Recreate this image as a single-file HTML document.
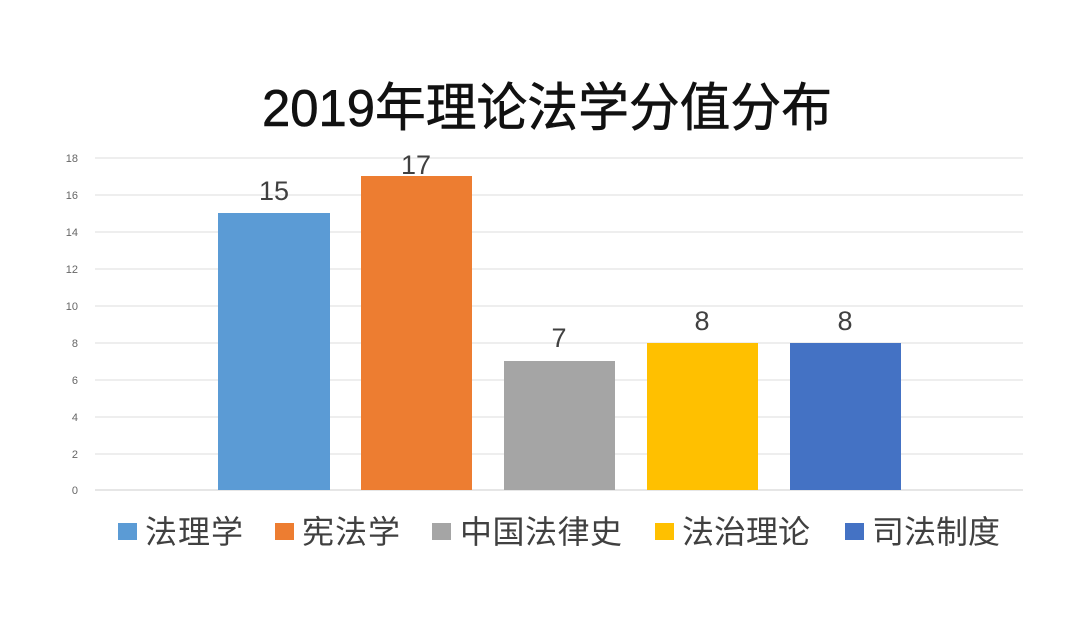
<!DOCTYPE html>
<html><head><meta charset="utf-8"><style>
html,body{margin:0;padding:0;background:#fff;}
svg{display:block}
text{font-family:"Liberation Sans","Noto Sans CJK SC",sans-serif;}
</style></head><body>
<svg width="1080" height="617" viewBox="0 0 1080 617" xmlns="http://www.w3.org/2000/svg">
<rect width="1080" height="617" fill="#fff"/>
<text x="262" y="126" font-size="52" textLength="570" lengthAdjust="spacingAndGlyphs" fill="#111" stroke="#111" stroke-width="0.6" font-family="'Liberation Sans','Noto Sans CJK SC',sans-serif">2019年理论法学分值分布</text>
<g stroke="#e3e3e3" stroke-width="1.2">
<line x1="95" x2="1023" y1="158" y2="158"/>
<line x1="95" x2="1023" y1="195" y2="195"/>
<line x1="95" x2="1023" y1="232" y2="232"/>
<line x1="95" x2="1023" y1="269" y2="269"/>
<line x1="95" x2="1023" y1="306" y2="306"/>
<line x1="95" x2="1023" y1="343" y2="343"/>
<line x1="95" x2="1023" y1="380" y2="380"/>
<line x1="95" x2="1023" y1="417" y2="417"/>
<line x1="95" x2="1023" y1="454" y2="454"/>
<line x1="95" x2="1023" y1="490" y2="490" stroke="#d8d8d8"/>
</g>
<g font-size="11" fill="#666" text-anchor="end">
<text x="78" y="162">18</text><text x="78" y="199">16</text><text x="78" y="236">14</text>
<text x="78" y="273">12</text><text x="78" y="310">10</text><text x="78" y="347">8</text>
<text x="78" y="384">6</text><text x="78" y="421">4</text><text x="78" y="458">2</text>
<text x="78" y="494">0</text>
</g>
<rect x="218" y="213" width="112" height="277" fill="#5b9bd5"/>
<rect x="361" y="176" width="111" height="314" fill="#ed7d31"/>
<rect x="504" y="361" width="111" height="129" fill="#a5a5a5"/>
<rect x="647" y="343" width="111" height="147" fill="#ffc000"/>
<rect x="790" y="343" width="111" height="147" fill="#4472c4"/>
<g font-size="27" fill="#404040" text-anchor="middle">
<text x="274" y="200">15</text><text x="416" y="174">17</text>
<text x="559" y="347">7</text><text x="702" y="330">8</text><text x="845" y="330">8</text>
</g>
<g font-size="32" fill="#404040" font-family="'Noto Sans CJK SC',sans-serif" lengthAdjust="spacingAndGlyphs">
<rect x="118" y="523" width="19" height="17" fill="#5b9bd5"/><text x="145" y="543" textLength="98">法理学</text>
<rect x="275" y="523" width="19" height="17" fill="#ed7d31"/><text x="302" y="543" textLength="98">宪法学</text>
<rect x="432" y="523" width="19" height="17" fill="#a5a5a5"/><text x="460" y="543" textLength="162">中国法律史</text>
<rect x="655" y="523" width="19" height="17" fill="#ffc000"/><text x="682" y="543" textLength="128">法治理论</text>
<rect x="845" y="523" width="19" height="17" fill="#4472c4"/><text x="872" y="543" textLength="128">司法制度</text>
</g>
</svg>
</body></html>
